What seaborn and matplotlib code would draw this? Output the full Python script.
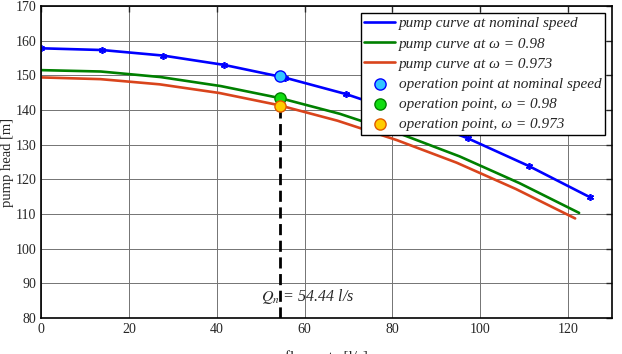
import numpy as np
import pandas as pd
import seaborn as sns
import matplotlib.pyplot as plt

# pump curves (flow rate [l/s], head [m])
q_nominal = [0, 13.9, 27.8, 41.7, 55.6, 69.4, 83.3, 97.2, 111.1, 125.0]
h_nominal = [157.8, 157.3, 155.7, 153.0, 149.3, 144.6, 138.7, 131.8, 123.8, 114.8]

q_098 = [0, 13.6, 27.2, 40.9, 54.5, 68.0, 81.6, 95.3, 108.9, 122.5]
h_098 = [151.5, 151.1, 149.5, 146.9, 143.4, 138.9, 133.2, 126.6, 118.9, 110.3]

q_0973 = [0, 13.5, 27.0, 40.6, 54.1, 67.5, 81.0, 94.6, 108.1, 121.6]
h_0973 = [149.4, 148.9, 147.4, 144.9, 141.4, 136.9, 131.3, 124.8, 117.2, 108.7]

# operation points
q_op = 54.44
h_op = [149.7, 143.5, 141.2]

labels_curve = ["pump curve at nominal speed", "pump curve at ω = 0.98", "pump curve at ω = 0.973"]
labels_op = ["operation point at nominal speed", "operation point, ω = 0.98", "operation point, ω = 0.973"]

sns.set_style("white")
plt.rcParams['font.family'] = ['Liberation Serif', 'DejaVu Serif']
plt.rcParams['mathtext.fontset'] = 'stix'

fig = plt.figure(figsize=(6.22, 3.54), dpi=100)
ax = fig.add_axes([0.066, 0.102, 0.918, 0.881])

sns.lineplot(x=q_nominal, y=h_nominal, color='#0000ff', lw=1.9, label=labels_curve[0], ax=ax)
ax.plot(q_nominal, h_nominal, ls='none', color='#0000ff', marker=(6, 2, 0), ms=5, mew=1.2,
        label='_nolegend_')
sns.lineplot(x=q_098, y=h_098, color='#008000', lw=1.9, label=labels_curve[1], ax=ax)
sns.lineplot(x=q_0973, y=h_0973, color='#d9441c', lw=1.9, label=labels_curve[2], ax=ax)

ax.plot([q_op, q_op], [80, h_op[2]], color='black', lw=2.0, ls=(0, (4, 2)), label='_nolegend_')

op_df = pd.DataFrame({'q': [q_op] * 3, 'h': h_op, 'lab': labels_op})
face = ['#33c6ff', '#11dd11', '#ffcc00']
edge = ['#0000ff', '#008000', '#e05a00']
for i in range(3):
    sns.scatterplot(data=op_df.iloc[[i]], x='q', y='h', s=65, color=face[i], edgecolor=edge[i],
                    linewidth=1.0, label=labels_op[i], ax=ax, zorder=5)

ax.text(50, 84.8, r'$Q_n$ = 54.44 l/s', fontsize=11.5, style='italic', va='baseline')

ax.set_xlim(0, 130)
ax.set_ylim(80, 170)
ax.set_xticks(range(0, 121, 20))
ax.set_yticks(range(80, 171, 10))
ax.grid(True, color='0.45', lw=0.7)
ax.tick_params(direction='in', top=True, right=True, labelsize=10, length=4, width=1)
for s in ax.spines.values():
    s.set_color('black')
    s.set_linewidth(1.2)

ax.set_ylabel('pump head [m]', fontsize=10.5)
ax.yaxis.set_label_coords(-0.047, 0.5)
ax.set_xlabel('flow rate [l/s]', fontsize=11, labelpad=11)

leg = ax.legend(loc='upper right', bbox_to_anchor=(0.988, 0.978), fontsize=11,
                frameon=True, fancybox=False, framealpha=1, edgecolor='black', handlelength=2.0,
                handletextpad=0.25, labelspacing=0.42, borderpad=0.25, borderaxespad=0)
leg.get_frame().set_linewidth(1.0)
for t in leg.get_texts():
    t.set_style('italic')

fig.savefig('out.png', dpi=100)
